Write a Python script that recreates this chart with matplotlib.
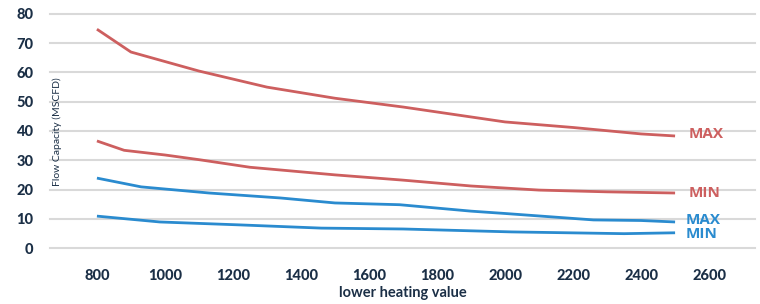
import matplotlib
matplotlib.use("Agg")
import matplotlib.pyplot as plt

plt.rcParams['font.family'] = ['Lato', 'DejaVu Sans']

red_max_x = [800, 900, 1100, 1300, 1500, 1700, 1900, 2000, 2200, 2400, 2500]
red_max_y = [74.8, 67.0, 60.5, 55.0, 51.2, 48.2, 44.8, 43.1, 41.2, 39.0, 38.3]

red_min_x = [800, 880, 1000, 1100, 1250, 1500, 1700, 1900, 2100, 2300, 2500]
red_min_y = [36.6, 33.4, 31.8, 30.2, 27.6, 25.0, 23.2, 21.2, 19.8, 19.2, 18.8]

blue_max_x = [800, 930, 1130, 1340, 1500, 1690, 1900, 2000, 2260, 2400, 2500]
blue_max_y = [23.9, 20.9, 18.8, 17.1, 15.4, 14.8, 12.6, 11.8, 9.6, 9.4, 8.9]

blue_min_x = [800, 985, 1220, 1460, 1700, 2020, 2350, 2500]
blue_min_y = [10.9, 8.9, 7.9, 6.8, 6.5, 5.5, 4.9, 5.2]

x_ticks = [800, 1000, 1200, 1400, 1600, 1800, 2000, 2200, 2400, 2600]
y_ticks = [0, 10, 20, 30, 40, 50, 60, 70, 80]

RED = '#cd5f5f'
BLUE = '#2a8bcf'
NAVY = '#1b2f46'

fig = plt.figure(figsize=(7.6, 3.04), dpi=100)
ax = fig.add_axes([50/760, 1-248/304, 705/760, 234/304])

ax.set_ylim(0, 80)
ax.set_xlim(662, 2735)
ax.set_yticks(y_ticks)
ax.set_xticks(x_ticks)
ax.grid(axis='y', color='#d9d9d9', linewidth=1.5, clip_on=False)
ax.set_axisbelow(True)
for s in ax.spines.values():
    s.set_visible(False)
ax.tick_params(length=0)
ax.tick_params(axis='y', pad=12, labelsize=10.5, labelcolor=NAVY)
ax.tick_params(axis='x', pad=15, labelsize=10.5, labelcolor=NAVY)
for lab in ax.get_xticklabels() + ax.get_yticklabels():
    lab.set_fontweight(900)

lw = 2.0
ax.plot(red_max_x, red_max_y, color=RED, lw=lw, solid_capstyle='butt')
ax.plot(red_min_x, red_min_y, color=RED, lw=lw, solid_capstyle='butt')
ax.plot(blue_max_x, blue_max_y, color=BLUE, lw=lw, solid_capstyle='butt')
ax.plot(blue_min_x, blue_min_y, color=BLUE, lw=lw, solid_capstyle='butt')

lab_font = dict(family=['Open Sans', 'DejaVu Sans'], fontsize=11, fontweight='bold', va='center', ha='left')
ax.text(2540, red_max_y[-1] + 0.6, 'MAX', color=RED, **lab_font)
ax.text(2540, red_min_y[-1], 'MIN', color=RED, **lab_font)
ax.text(2530, blue_max_y[-1] + 0.6, 'MAX', color=BLUE, **lab_font)
ax.text(2530, blue_min_y[-1] - 0.4, 'MIN', color=BLUE, **lab_font)

ax.set_xlabel('lower heating value', fontsize=10.5, color=NAVY, fontweight='bold', labelpad=2)
fig.text(57/760, 1-132/304, 'Flow Capacity (MSCFD)', rotation=90, fontsize=7.5, color=NAVY,
         ha='center', va='center')

fig.savefig('out.png', dpi=100)
